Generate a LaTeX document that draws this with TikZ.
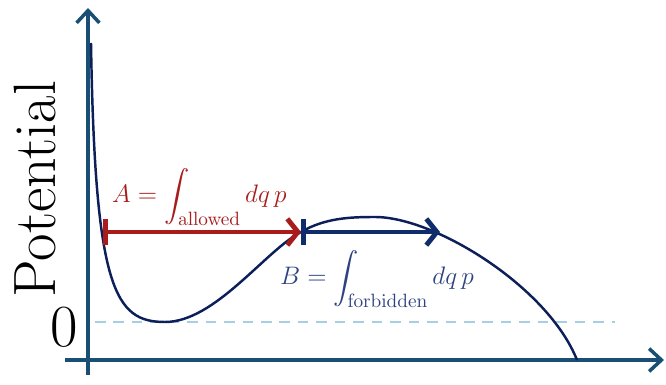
\documentclass[tikz,border=0pt]{standalone}
\usepackage{amsmath}
\usetikzlibrary{arrows.meta}
\definecolor{axisc}{HTML}{1A4F75}
\definecolor{curvec}{HTML}{0C1F5A}
\definecolor{allowc}{HTML}{A81C1C}
\definecolor{forbc}{HTML}{0F2C6B}
\definecolor{forbtxt}{HTML}{2E4280}
\definecolor{zeroc}{HTML}{A6CFE3}

\begin{document}
\begin{tikzpicture}[
  x=0.02cm, y=0.02cm,
  axis/.style={line width=2pt, draw=axisc, -{Straight Barb[length=7pt,width=13pt]}},
  pot/.style={line width=1.4pt, draw=curvec},
  zero/.style={dash pattern=on 6pt off 4.5pt, line width=0.8pt, draw=zeroc},
  tunnel/.style={line width=2.8pt, {Bar[width=15pt]}-{Straight Barb[length=6pt,width=15pt]}},
  lbl/.style={anchor=base west, font=\fontsize{15}{18}\selectfont},
]
\useasboundingbox (0,0) rectangle (666,385);
% --- rows ---
\def\yx{25}
\def\yzero{63}
\def\yturn{153}
% --- axes ---
\coordinate (ybot)   at (88,10);
\coordinate (ytop)   at (88,377);
\coordinate (xleft)  at (65,\yx);
\coordinate (xright) at (664,\yx);
\draw[axis] (ybot) -- (ytop);
\draw[axis] (xleft) -- (xright);
% zero level
\coordinate (zl) at (95,\yzero);
\coordinate (zr) at (615,\yzero);
\draw[zero] (zl) -- (zr);
% turning points
\coordinate (turnA) at (103,\yturn);
\coordinate (turnB) at (301,\yturn);
\coordinate (turnC) at (440,\yturn);
% potential curve
\draw[pot] (91,342) .. controls (95,95) and (115,63) .. (165,63)
  .. controls (215,63) and (265,134) .. (turnB)
  .. controls (325,167) and (350,168) .. (375,168)
  .. controls (435,168) and (548,98) .. (577,\yx);
% --- arrows ---
\draw[tunnel, draw=allowc] (turnA) -- (turnB);
\draw[tunnel, draw=forbc] (turnB) -- (turnC);
% --- labels ---
\node[font=\fontsize{34}{40}\selectfont, rotate=90] (potlabel) at (35,196) {Potential};
\node[font=\fontsize{34}{40}\selectfont] (zerolabel) at (64,58) {0};
\node[lbl, text=allowc] (allowA) at (106,182) {$\displaystyle A=\int_{\mathrm{allowed}} dq\,p$};
\node[lbl, text=forbtxt] (forbB) at (274,100) {$\displaystyle B=\int_{\mathrm{forbidden}} dq\,p$};
\end{tikzpicture}
\end{document}
